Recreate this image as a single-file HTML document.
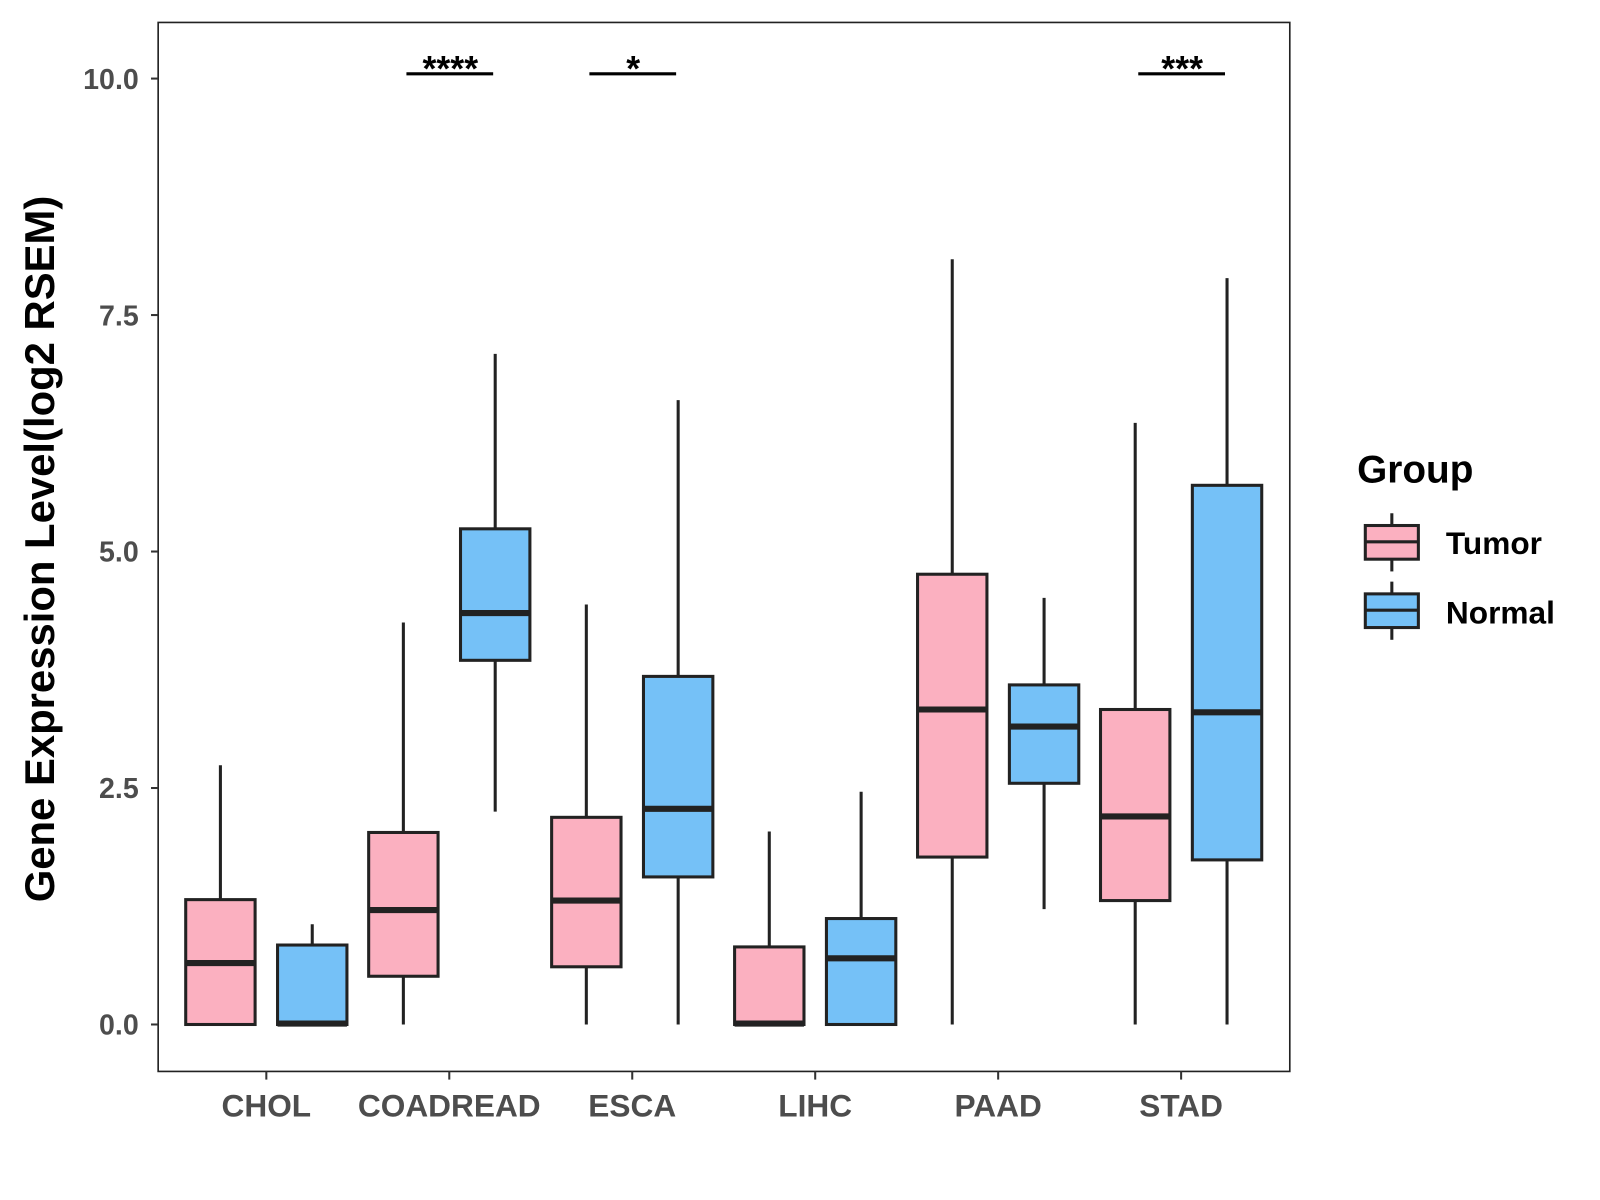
<!DOCTYPE html>
<html><head><meta charset="utf-8"><style>
html,body{margin:0;padding:0;background:#fff}
svg{display:block;font-family:"Liberation Sans",Arial,sans-serif}
</style></head><body>
<svg id="chart" width="1600" height="1200" viewBox="0 0 1568 1176" xmlns="http://www.w3.org/2000/svg">
<rect width="1568" height="1176" fill="#fff"/>
<g id="plot"></g>
<text transform="translate(53,538) rotate(-90)" text-anchor="middle" font-size="41" font-weight="bold" fill="#000">Gene Expression Level(log2 RSEM)</text>
<g>
<text x="1330" y="473" font-size="38" font-weight="bold">Group</text>
<g>
<line x1="1364" y1="503" x2="1364" y2="560" stroke="#222" stroke-width="3"/>
<rect x="1338" y="515" width="52" height="33" fill="#FBB0C0" stroke="#222" stroke-width="3"/>
<line x1="1338" y1="531" x2="1390" y2="531" stroke="#222" stroke-width="3"/>
<text x="1417" y="543" font-size="31" font-weight="bold">Tumor</text></g>
<g>
<line x1="1364" y1="570" x2="1364" y2="627" stroke="#222" stroke-width="3"/>
<rect x="1338" y="582" width="52" height="33" fill="#75C1F7" stroke="#222" stroke-width="3"/>
<line x1="1338" y1="598" x2="1390" y2="598" stroke="#222" stroke-width="3"/>
<text x="1417" y="611" font-size="31" font-weight="bold">Normal</text></g>
</g>
</svg>
<script>
const categories=["CHOL","COADREAD","ESCA","LIHC","PAAD","STAD"];
const groups=["Tumor","Normal"];
const tumorLow=[0,0,0,0,0,0];
const tumorQ1=[0,0.51,0.61,0,1.77,1.31];
const tumorMed=[0.65,1.21,1.31,0.01,3.33,2.2];
const tumorQ3=[1.32,2.03,2.19,0.82,4.76,3.33];
const tumorHigh=[2.74,4.25,4.44,2.04,8.09,6.36];
const normalLow=[0,2.25,0,0,1.22,0];
const normalQ1=[0,3.85,1.56,0,2.55,1.74];
const normalMed=[0.01,4.35,2.28,0.7,3.15,3.3];
const normalQ3=[0.84,5.24,3.68,1.12,3.59,5.7];
const normalHigh=[1.06,7.09,6.6,2.46,4.51,7.89];
const yTicks=[0,2.5,5,7.5,10];
const yTickLabels=["0.0","2.5","5.0","7.5","10.0"];
const sigCats=["COADREAD","ESCA","STAD"];
const sigLabels=["****","*","***"];
const sigY=[10.05,10.05,10.05];

const NS="http://www.w3.org/2000/svg";
const g=document.getElementById('plot');
const L=155,R=1264,T=22,B=1050;
const y=v=>1004-v*92.7;
const x=i=>261+i*179.3;
function el(t,a,p){const e=document.createElementNS(NS,t);for(const k in a)e.setAttribute(k,a[k]);(p||g).appendChild(e);return e;}

const frame=el('rect',{x:L,y:T,width:R-L,height:B-T,fill:'none',stroke:'#222','stroke-width':1.6});



yTicks.forEach((v,i)=>{
 const t=el('line',{x1:L-7,x2:L,y1:y(v),y2:y(v),stroke:'#333','stroke-width':2});
 
 
 const tx=el('text',{x:L-19,y:y(v)+10,'text-anchor':'end','font-size':28,'font-weight':'bold',fill:'#4d4d4d'});
 tx.textContent=yTickLabels[i];
 
 
});
categories.forEach((c,i)=>{
 const t=el('line',{x1:x(i),x2:x(i),y1:B,y2:B+8,stroke:'#333','stroke-width':2});
 
 
 const tx=el('text',{x:x(i),y:B+44,'text-anchor':'middle','font-size':31,'font-weight':'bold',fill:'#4d4d4d'});
 tx.textContent=c;
 
 
});
const series=[{lo:tumorLow,q1:tumorQ1,md:tumorMed,q3:tumorQ3,hi:tumorHigh,fill:'#FBB0C0',off:-45,n:'tumor'},
{lo:normalLow,q1:normalQ1,md:normalMed,q3:normalQ3,hi:normalHigh,fill:'#75C1F7',off:45,n:'normal'}];
series.forEach(s=>{
 categories.forEach((c,i)=>{
  const cx=x(i)+s.off,w=68;
  const grp=el('g',{});
  
  
  el('line',{x1:cx,x2:cx,y1:y(s.hi[i]),y2:y(s.lo[i]),stroke:'#222','stroke-width':3},grp);
  el('rect',{x:cx-w/2,y:y(s.q3[i]),width:w,height:Math.max(0,y(s.q1[i])-y(s.q3[i])),fill:s.fill,stroke:'#222','stroke-width':3},grp);
  el('line',{x1:cx-w/2,x2:cx+w/2,y1:y(s.md[i]),y2:y(s.md[i]),stroke:'#222','stroke-width':6},grp);
 });
});
sigCats.forEach((c,j)=>{
 const i=categories.indexOf(c);
 const grp=el('g',{});
 
 
 el('line',{x1:x(i)-42,x2:x(i)+43,y1:y(sigY[j]),y2:y(sigY[j]),stroke:'#000','stroke-width':3},grp);
 const t=el('text',{x:x(i)+1,y:y(sigY[j])+7,'text-anchor':'middle','font-size':35,'font-weight':'bold'},grp);
 t.textContent=sigLabels[j];
});
</script>
</body></html>
